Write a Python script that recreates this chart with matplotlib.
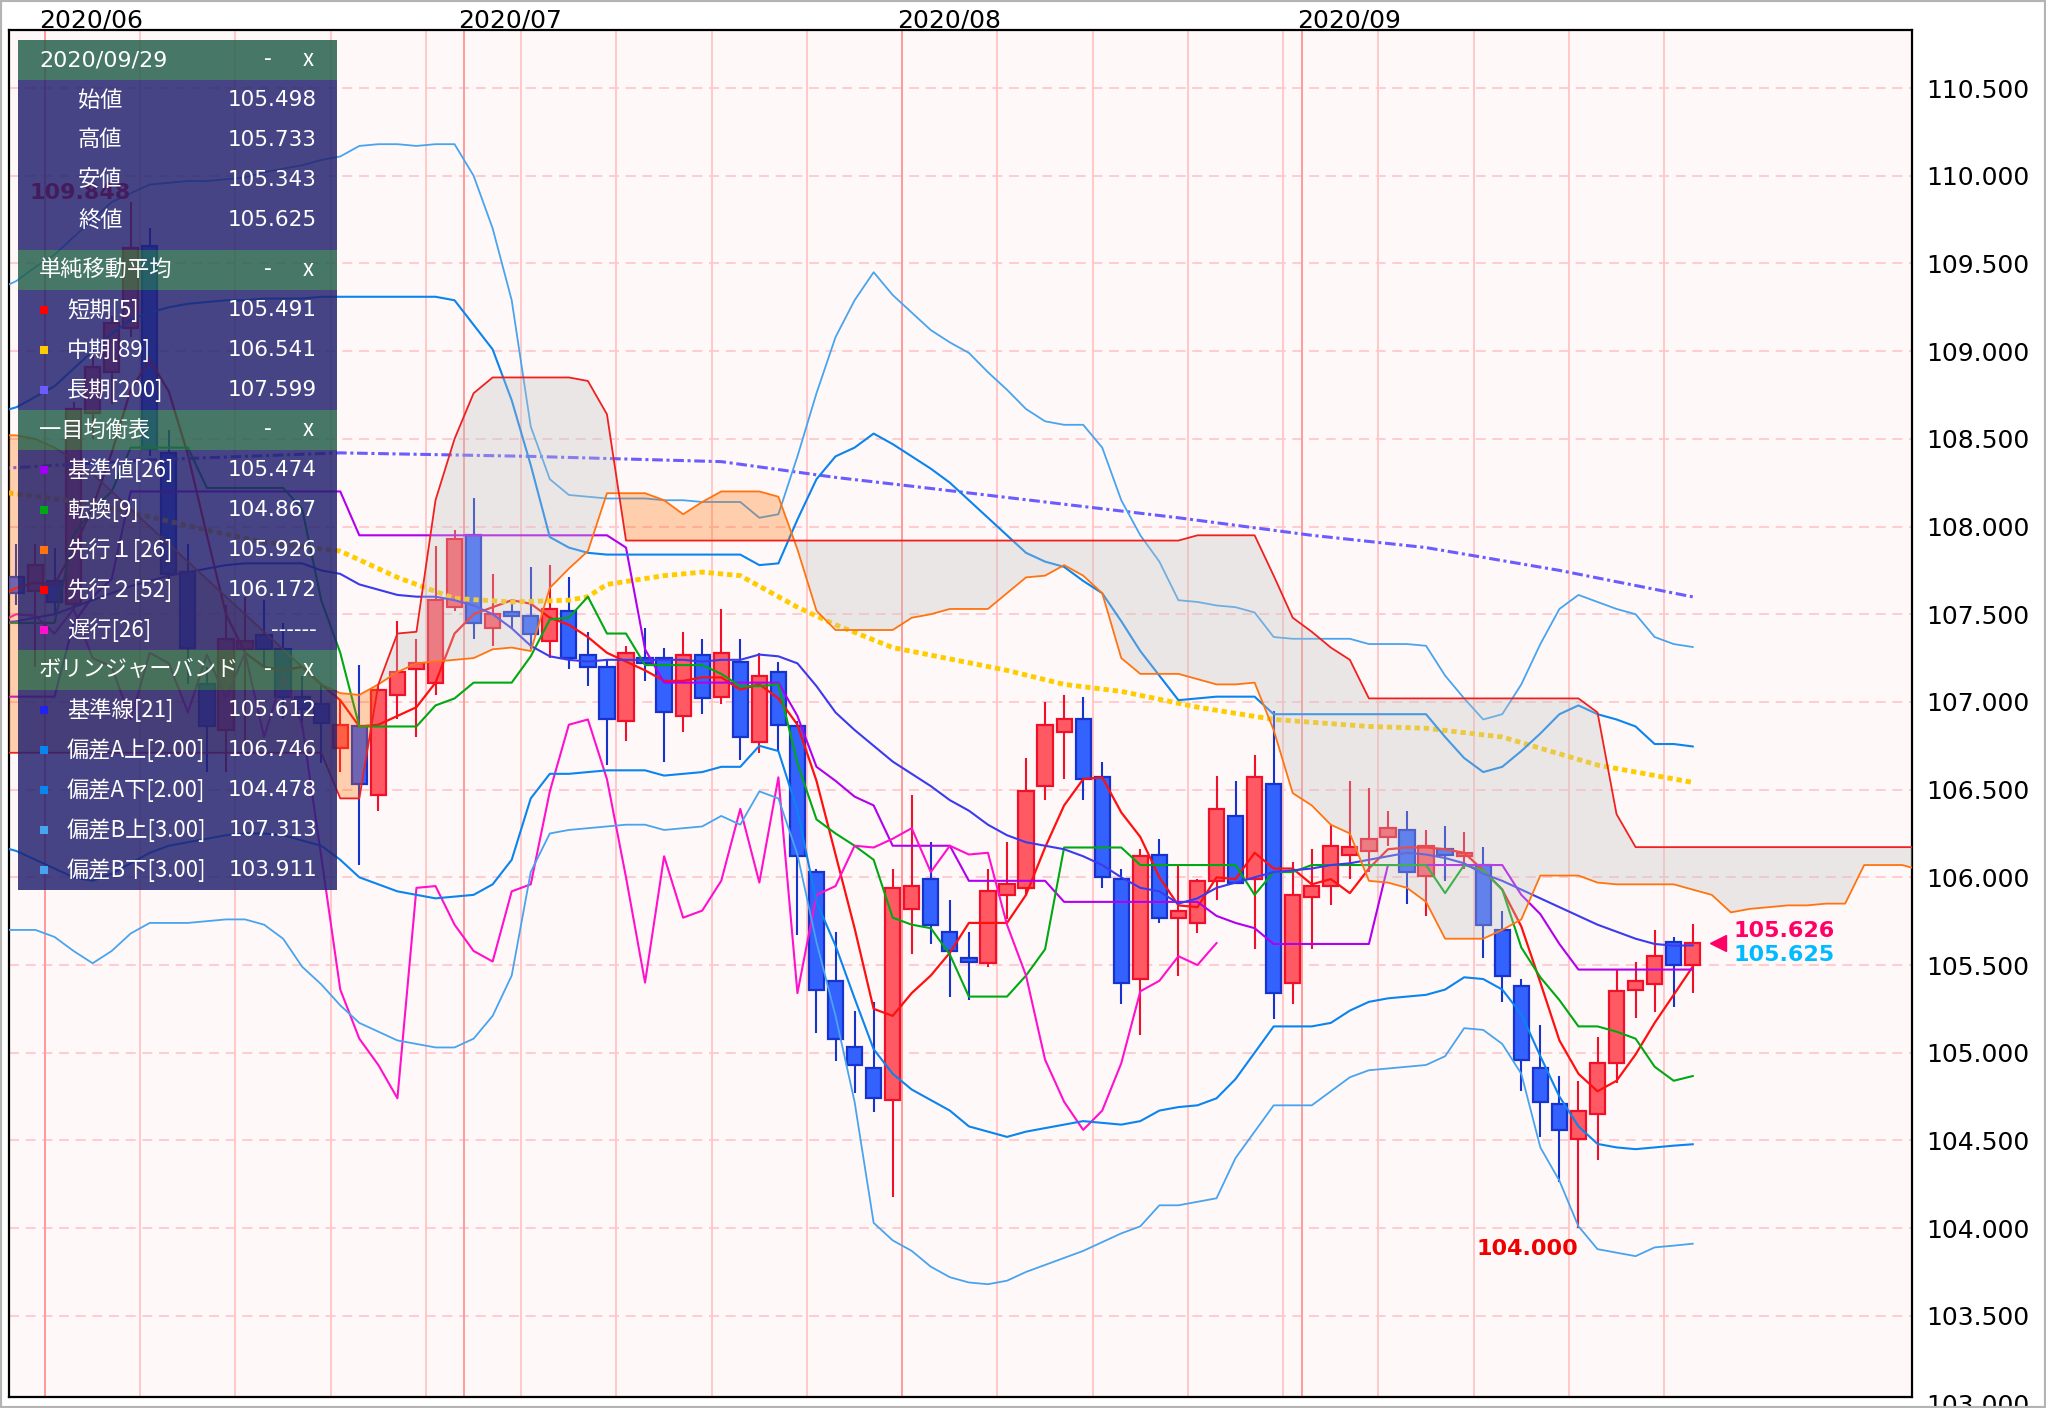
import matplotlib.pyplot as plt
import matplotlib.transforms as mtransforms
from matplotlib.patches import Rectangle
import numpy as np

plt.rcParams['font.family'] = ['Noto Sans CJK JP', 'DejaVu Sans']

W, H = 2046, 1408

# trading-day index: 0 = 2020/06/01 ... 86 = 2020/09/29
day = list(range(-3, 87))
opens = [107.50, 107.71, 107.63, 107.69, 107.56, 108.65, 108.88, 109.13, 109.60, 108.42,
         107.74, 107.10, 106.84, 107.30, 107.38, 107.30, 107.03, 106.99, 106.74, 106.86,
         106.47, 107.04, 107.19, 107.11, 107.54, 107.95, 107.42, 107.51, 107.49, 107.35,
         107.52, 107.27, 107.20, 106.89, 107.25, 107.25, 106.92, 107.27, 107.03, 107.23,
         106.77, 107.17, 106.86, 106.03, 105.41, 105.03, 104.91, 104.73, 105.82, 105.99,
         105.69, 105.54, 105.51, 105.90, 105.94, 106.52, 106.83, 106.90, 106.57, 105.99,
         105.42, 106.13, 105.77, 105.74, 105.98, 106.35, 105.99, 106.53, 105.40, 105.89,
         105.95, 106.13, 106.15, 106.23, 106.27, 106.01, 106.16, 106.12, 106.07, 105.70,
         105.38, 104.91, 104.71, 104.51, 104.65, 104.94, 105.36, 105.39, 105.63, 105.498]
highs = [107.85, 107.90, 107.90, 107.88, 108.71, 109.00, 109.20, 109.848, 109.70, 108.55,
         107.90, 107.20, 107.55, 107.60, 107.58, 107.45, 107.15, 107.10, 107.01, 107.21,
         107.10, 107.46, 107.36, 107.89, 107.98, 108.16, 107.73, 107.57, 107.77, 107.78,
         107.71, 107.40, 107.24, 107.32, 107.42, 107.31, 107.40, 107.36, 107.53, 107.36,
         107.28, 107.23, 106.89, 106.05, 105.69, 105.24, 105.29, 106.05, 106.47, 106.20,
         105.87, 105.69, 106.05, 106.20, 106.68, 107.00, 107.04, 107.03, 106.66, 106.05,
         106.16, 106.22, 106.07, 105.99, 106.58, 106.55, 106.70, 106.95, 106.09, 106.16,
         106.30, 106.55, 106.51, 106.38, 106.38, 106.27, 106.29, 106.26, 106.17, 105.81,
         105.42, 105.16, 104.87, 104.84, 105.09, 105.48, 105.52, 105.70, 105.66, 105.733]
lows = [107.40, 107.55, 107.20, 107.50, 107.52, 108.50, 108.70, 109.08, 108.40, 107.65,
        107.10, 106.60, 106.60, 106.75, 107.20, 106.90, 106.85, 106.65, 106.60, 106.07,
        106.38, 106.90, 106.80, 107.04, 107.52, 107.36, 107.32, 107.42, 107.30, 107.25,
        107.19, 107.09, 106.64, 106.78, 107.12, 106.66, 106.83, 106.93, 106.99, 106.67,
        106.71, 106.72, 105.67, 105.11, 104.95, 104.77, 104.66, 104.18, 105.56, 105.62,
        105.32, 105.30, 105.49, 105.76, 105.90, 106.44, 106.56, 106.44, 105.94, 105.28,
        105.10, 105.74, 105.44, 105.68, 105.87, 105.96, 105.59, 105.19, 105.28, 105.59,
        105.84, 105.99, 106.03, 106.18, 105.85, 105.78, 105.98, 106.05, 105.54, 105.29,
        104.78, 104.52, 104.26, 104.00, 104.39, 104.83, 105.20, 105.23, 105.26, 105.343]
closes = [107.73, 107.62, 107.78, 107.57, 108.67, 108.91, 109.16, 109.59, 108.44, 107.73,
          107.31, 106.86, 107.36, 107.35, 107.30, 107.03, 106.96, 106.88, 106.87, 106.53,
          107.07, 107.17, 107.22, 107.58, 107.93, 107.45, 107.50, 107.49, 107.39, 107.53,
          107.25, 107.20, 106.90, 107.28, 107.22, 106.94, 107.27, 107.02, 107.28, 106.80,
          107.15, 106.87, 106.12, 105.36, 105.08, 104.93, 104.74, 105.94, 105.95, 105.73,
          105.58, 105.52, 105.92, 105.96, 106.49, 106.87, 106.90, 106.56, 106.00, 105.40,
          106.12, 105.77, 105.81, 105.98, 106.39, 105.97, 106.57, 105.34, 105.90, 105.95,
          106.18, 106.17, 106.22, 106.28, 106.03, 106.18, 106.13, 106.14, 105.73, 105.44,
          104.96, 104.72, 104.56, 104.67, 104.94, 105.35, 105.41, 105.55, 105.50, 105.625]
ask_last = 105.626

month_start = [0, 22, 45, 66]
month_label = ['2020/06', '2020/07', '2020/08', '2020/09']
mondays = [0, 5, 10, 15, 20, 25, 30, 35, 40, 45, 50, 55, 60, 65, 70, 75, 80, 85]

# simple moving averages
sma5 = [107.60, 107.65, 107.68, 107.67, 107.87, 108.11, 108.42, 108.78, 108.95, 108.77,
        108.41, 107.95, 107.50, 107.28, 107.20, 107.18, 107.20, 107.10, 107.01, 106.86,
        106.87, 106.92, 106.97, 107.11, 107.39, 107.50, 107.54, 107.58, 107.56, 107.48,
        107.44, 107.37, 107.28, 107.23, 107.18, 107.12, 107.12, 107.14, 107.14, 107.07,
        107.10, 107.02, 106.87, 106.55, 106.13, 105.71, 105.25, 105.21, 105.34, 105.44,
        105.57, 105.74, 105.74, 105.74, 105.90, 106.17, 106.41, 106.56, 106.57, 106.37,
        106.23, 106.00, 105.84, 105.83, 106.00, 105.99, 106.14, 106.05, 106.05, 105.96,
        105.99, 105.91, 106.05, 106.16, 106.17, 106.17, 106.16, 106.14, 106.04, 105.93,
        105.72, 105.40, 105.07, 104.88, 104.78, 104.84, 104.99, 105.17, 105.33, 105.491]
sma89_x = [-3, 2, 8, 11, 15, 18, 21, 24, 27, 28, 29, 32, 34, 36, 37, 39, 41, 44, 50, 53,
           56, 60, 64, 69, 72, 76, 81, 86]
sma89 = [108.20, 108.13, 107.98, 107.91, 107.86, 107.71, 107.59, 107.57, 107.58, 107.60,
         107.67, 107.72, 107.74, 107.72, 107.66, 107.54, 107.44, 107.31, 107.18, 107.10,
         107.06, 106.97, 106.90, 106.86, 106.85, 106.80, 106.64, 106.541]
sma200_x = [-3, 5, 15, 25, 35, 41, 45, 52, 59, 66, 72, 79, 86]
sma200 = [108.33, 108.38, 108.42, 108.40, 108.37, 108.28, 108.23, 108.14, 108.05, 107.95,
          107.88, 107.75, 107.599]

# ichimoku
kijun = ([107.03] * 4 + [107.45, 107.60, 107.70] + [108.20] * 12 + [107.95] * 14
         + [107.88, 107.30] + [107.11] * 7 + [106.92, 106.63, 106.55, 106.46, 106.41]
         + [106.18] * 4 + [105.98] * 5 + [105.86] * 8 + [105.78, 105.74, 105.71]
         + [105.62] * 6 + [106.07] * 7 + [105.90, 105.79, 105.62] + [105.474] * 7)
tenkan = ([107.45] * 4 + [107.95, 108.10, 108.20] + [108.45] * 4 + [108.22] * 5
          + [108.10, 107.58, 107.28] + [106.86] * 4 + [106.98, 107.02] + [107.11] * 3
          + [107.26, 107.47, 107.48, 107.60, 107.39, 107.39] + [107.21] * 4
          + [107.16, 107.09, 107.09, 107.10, 106.65, 106.33, 106.25, 106.18, 106.10,
             105.77, 105.73, 105.71, 105.56] + [105.32] * 3 + [105.44, 105.59]
          + [106.17] * 4 + [106.07] * 6 + [105.90, 106.03, 106.03] + [106.07] * 7
          + [105.91, 106.07, 106.04, 105.93, 105.60, 105.43, 105.30, 105.15, 105.15,
             105.12, 105.08, 104.92, 104.84, 104.867])
senkou_x = list(range(-3, 99))
senkou_a = [108.52, 108.52, 108.50, 108.45, 108.38, 108.30, 108.20, 108.10, 108.00, 107.90,
            107.80, 107.70, 107.60, 107.50, 107.40, 107.30, 107.20, 107.10, 107.05, 107.04,
            107.10, 107.17, 107.22, 107.23, 107.24, 107.25, 107.30, 107.31, 107.29, 107.65,
            107.76, 107.86, 108.19, 108.19, 108.19, 108.15, 108.07, 108.14, 108.20, 108.20,
            108.20, 108.17, 107.87, 107.52, 107.41, 107.41, 107.41, 107.41, 107.48, 107.50,
            107.53, 107.53, 107.53, 107.62, 107.71, 107.72, 107.78, 107.72, 107.62, 107.25,
            107.16, 107.16, 107.16, 107.13, 107.10, 107.10, 107.11, 106.84, 106.48, 106.41,
            106.30, 106.25, 105.98, 105.97, 105.94, 105.86, 105.65, 105.65, 105.65, 105.70,
            105.76, 106.01, 106.01, 106.01, 105.97, 105.96, 105.96, 105.96, 105.96, 105.93,
            105.90, 105.80, 105.82, 105.83, 105.84, 105.84, 105.85, 105.85, 106.07, 106.07,
            106.07, 106.04]
senkou_b = ([106.71] * 18 + [106.45, 106.45, 107.10, 107.39, 107.40, 108.15, 108.50,
            108.76, 108.85, 108.85, 108.85, 108.85, 108.85, 108.83, 108.64] + [107.92] * 30
            + [107.95] * 4 + [107.72, 107.48, 107.40, 107.31, 107.24] + [107.02] * 12
            + [106.94, 106.36] + [106.172] * 16)

# bollinger bands (21)
bb_mid = [107.45, 107.46, 107.48, 107.50, 107.54, 107.58, 107.62, 107.66, 107.69, 107.72,
          107.74, 107.76, 107.78, 107.79, 107.79, 107.79, 107.79, 107.75, 107.73, 107.67,
          107.64, 107.61, 107.60, 107.60, 107.58, 107.55, 107.50, 107.42, 107.32, 107.26,
          107.24, 107.23, 107.24, 107.24, 107.24, 107.24, 107.24, 107.23, 107.24, 107.24,
          107.27, 107.26, 107.22, 107.09, 106.94, 106.84, 106.75, 106.66, 106.59, 106.52,
          106.44, 106.38, 106.30, 106.24, 106.20, 106.18, 106.16, 106.12, 106.07, 106.00,
          105.94, 105.92, 105.85, 105.88, 105.94, 105.97, 106.00, 106.03, 106.04, 106.05,
          106.07, 106.08, 106.10, 106.12, 106.14, 106.13, 106.11, 106.08, 106.02, 105.98,
          105.93, 105.88, 105.83, 105.78, 105.73, 105.69, 105.65, 105.62, 105.61, 105.612]
bb_up2 = [108.65, 108.68, 108.74, 108.80, 108.90, 109.00, 109.10, 109.18, 109.22, 109.25,
          109.27, 109.28, 109.29, 109.29, 109.30, 109.30, 109.30, 109.31, 109.31, 109.31,
          109.31, 109.31, 109.31, 109.31, 109.29, 109.15, 109.01, 108.72, 108.35, 107.94,
          107.88, 107.85, 107.84, 107.84, 107.84, 107.84, 107.84, 107.84, 107.84, 107.84,
          107.78, 107.79, 108.04, 108.27, 108.40, 108.45, 108.53, 108.47, 108.40, 108.33,
          108.25, 108.15, 108.05, 107.95, 107.85, 107.80, 107.77, 107.69, 107.62, 107.46,
          107.29, 107.15, 107.01, 107.02, 107.03, 107.03, 107.03, 106.93, 106.93, 106.93,
          106.93, 106.93, 106.93, 106.93, 106.93, 106.93, 106.80, 106.68, 106.60, 106.63,
          106.72, 106.82, 106.93, 106.98, 106.93, 106.90, 106.86, 106.76, 106.76, 106.746]
bb_up3 = [109.35, 109.40, 109.48, 109.55, 109.65, 109.75, 109.85, 109.90, 109.95, 109.96,
          109.97, 109.97, 109.98, 109.99, 110.02, 110.04, 110.06, 110.09, 110.11, 110.17,
          110.18, 110.18, 110.17, 110.18, 110.18, 110.00, 109.70, 109.29, 108.57, 108.27,
          108.18, 108.17, 108.16, 108.16, 108.16, 108.15, 108.15, 108.14, 108.14, 108.14,
          108.05, 108.07, 108.40, 108.76, 109.08, 109.29, 109.45, 109.32, 109.22, 109.12,
          109.05, 108.99, 108.88, 108.78, 108.67, 108.60, 108.58, 108.58, 108.45, 108.15,
          107.95, 107.80, 107.58, 107.57, 107.55, 107.54, 107.51, 107.37, 107.36, 107.36,
          107.36, 107.36, 107.33, 107.33, 107.33, 107.32, 107.15, 107.02, 106.90, 106.93,
          107.10, 107.33, 107.53, 107.61, 107.57, 107.53, 107.50, 107.37, 107.33, 107.313]
bb_dn2 = [106.18, 106.15, 106.10, 106.05, 106.00, 105.98, 106.02, 106.08, 106.14, 106.18,
          106.20, 106.22, 106.24, 106.25, 106.25, 106.24, 106.21, 106.18, 106.10, 106.00,
          105.96, 105.92, 105.90, 105.88, 105.89, 105.90, 105.96, 106.10, 106.45, 106.59,
          106.59, 106.60, 106.61, 106.61, 106.61, 106.58, 106.59, 106.60, 106.63, 106.63,
          106.75, 106.72, 106.38, 105.86, 105.61, 105.31, 105.02, 104.88, 104.79, 104.73,
          104.67, 104.58, 104.55, 104.52, 104.55, 104.57, 104.59, 104.61, 104.60, 104.59,
          104.61, 104.67, 104.69, 104.70, 104.74, 104.85, 105.00, 105.15, 105.15, 105.15,
          105.17, 105.24, 105.29, 105.31, 105.32, 105.33, 105.36, 105.43, 105.42, 105.36,
          105.22, 104.98, 104.75, 104.58, 104.48, 104.46, 104.45, 104.46, 104.47, 104.478]
bb_dn3 = [105.70, 105.70, 105.70, 105.66, 105.58, 105.51, 105.58, 105.68, 105.74, 105.74,
          105.74, 105.75, 105.76, 105.76, 105.73, 105.65, 105.49, 105.39, 105.27, 105.17,
          105.12, 105.07, 105.05, 105.03, 105.03, 105.08, 105.21, 105.44, 106.03, 106.25,
          106.27, 106.28, 106.29, 106.30, 106.30, 106.27, 106.28, 106.29, 106.35, 106.30,
          106.49, 106.45, 106.13, 105.63, 105.21, 104.72, 104.03, 103.93, 103.87, 103.78,
          103.72, 103.69, 103.68, 103.70, 103.75, 103.79, 103.83, 103.87, 103.92, 103.97,
          104.01, 104.13, 104.13, 104.15, 104.17, 104.40, 104.55, 104.70, 104.70, 104.70,
          104.78, 104.86, 104.90, 104.91, 104.92, 104.93, 104.98, 105.14, 105.13, 105.05,
          104.88, 104.46, 104.27, 104.01, 103.88, 103.86, 103.84, 103.89, 103.90, 103.911]

fig = plt.figure(figsize=(W / 100, H / 100), dpi=100)
ax = fig.add_axes([9 / W, 1 - 1397 / H, 1903 / W, 1367 / H])
ax.set_facecolor('#fff8f8')
ax.set_xlim(-2.39, 97.51)
ax.set_ylim(103.037, 110.831)
for s in ax.spines.values():
    s.set_linewidth(1.6)
    s.set_color('black')

# grid
yt = np.arange(103.5, 110.51, 0.5)
for v in yt:
    ax.axhline(v, color='#ffc4c8', lw=1.2, ls=(0, (6, 4)), zorder=0.5)
for m in mondays:
    ax.axvline(m - 0.5, color='#ffc8c8', lw=1.4, zorder=0.5)
for m in month_start:
    ax.axvline(m - 0.5, color='#ff9a9a', lw=1.4, zorder=0.6)

# candles
for i, o, h, l, c in zip(day, opens, highs, lows, closes):
    up = c >= o
    ec = '#f0102a' if up else '#1633cc'
    fc = '#ff5a64' if up else '#3362ff'
    ax.vlines(i, l, h, color=ec, lw=1.5, zorder=2)
    ax.add_patch(Rectangle((i - 0.4, min(o, c)), 0.8, max(abs(c - o), 0.006),
                           facecolor=fc, edgecolor=ec, lw=1.6, zorder=3))

# indicator lines
ax.plot(day, sma5, color='#ff1010', lw=1.6, zorder=4)
ax.plot(sma89_x, sma89, color='#ffcc00', lw=3.5, ls=(0, (1.1, 0.8)), zorder=4)
ax.plot(sma200_x, sma200, color='#6a5cff', lw=2.2, ls=(0, (3.5, 1.2, 1.0, 1.2)), zorder=4)
ax.plot(day, kijun, color='#b000ee', lw=1.5, zorder=4)
ax.plot(day, tenkan, color='#00a814', lw=1.5, zorder=4)
ax.plot([d - 25 for d in day[25:]], closes[25:], color='#ff10cc', lw=1.5, zorder=4)
ax.plot(day, bb_mid, color='#3a3aee', lw=1.5, zorder=4)
ax.plot(day, bb_up2, color='#0a84ee', lw=1.5, zorder=4)
ax.plot(day, bb_dn2, color='#0a84ee', lw=1.5, zorder=4)
ax.plot(day, bb_up3, color='#48a4ee', lw=1.3, zorder=4)
ax.plot(day, bb_dn3, color='#48a4ee', lw=1.3, zorder=4)

# kumo
sa = np.array(senkou_a)
sb = np.array(senkou_b)
ax.fill_between(senkou_x, sa, sb, where=sa >= sb, interpolate=True,
                color='#ff6e00', alpha=0.3, lw=0, zorder=5)
ax.fill_between(senkou_x, sa, sb, where=sa < sb, interpolate=True,
                color='#c4c4c4', alpha=0.33, lw=0, zorder=5)
ax.plot(senkou_x, senkou_a, color='#ff7410', lw=1.3, zorder=6)
ax.plot(senkou_x, senkou_b, color='#f02020', lw=1.3, zorder=6)

# high / low labels
i_hi = highs.index(max(highs))
i_lo = lows.index(min(lows))
ax.annotate(f'{max(highs):.3f}', xy=(day[i_hi], max(highs)), xytext=(0, 7),
            textcoords='offset points', ha='right', va='center', color='#ee0000',
            fontsize=16, fontweight='bold', family='DejaVu Sans', zorder=7)
ax.annotate(f'{min(lows):.3f}', xy=(day[i_lo], min(lows)), xytext=(0, -15),
            textcoords='offset points', ha='right', va='center', color='#ee0000',
            fontsize=16, fontweight='bold', family='DejaVu Sans', zorder=7)

# last price marker
tri = mtransforms.offset_copy(ax.transData, fig=fig, x=25, y=0, units='dots')
ax.plot([day[-1]], [closes[-1]], marker='<', ms=11, color='#ff0066', transform=tri,
        clip_on=False, zorder=7)
ax.annotate(f'{ask_last:.3f}', xy=(day[-1], closes[-1]), xytext=(29, 8.5),
            textcoords='offset points', ha='left', va='center', color='#ff0066',
            fontsize=16, fontweight='bold', family='DejaVu Sans', zorder=7)
ax.annotate(f'{closes[-1]:.3f}', xy=(day[-1], closes[-1]), xytext=(29, -8.5),
            textcoords='offset points', ha='left', va='center', color='#00bbff',
            fontsize=16, fontweight='bold', family='DejaVu Sans', zorder=7)

# axes labels
ax.set_xticks([])
ax.yaxis.tick_right()
ax.set_yticks(yt)
ax.set_yticklabels([f'{v:.3f}' for v in yt], family='DejaVu Sans', fontsize=18)
ax.tick_params(axis='y', length=0, pad=10)
ax.annotate('103.000', xy=(1, 103.0), xycoords=('axes fraction', 'data'), xytext=(10, -2),
            textcoords='offset points', va='center', fontsize=18, family='DejaVu Sans',
            annotation_clip=False)
for m, lbl in zip(month_start, month_label):
    ax.annotate(lbl, xy=(m - 0.5, 1), xycoords=('data', 'axes fraction'), xytext=(-4, 2),
                textcoords='offset points', ha='left', va='baseline', fontsize=18,
                family='DejaVu Sans', annotation_clip=False)

# info panel
def fxy(x, y):
    return x / W, 1 - y / H

def band(y0, y1, color):
    fig.add_artist(Rectangle(fxy(18, y1), 319 / W, (y1 - y0) / H, transform=fig.transFigure,
                             facecolor=color, edgecolor='none', alpha=0.84, zorder=10))

head_c = '#245f4b'
body_c = '#23226f'
band(40, 80, head_c)
band(80, 250, body_c)
band(250, 290, head_c)
band(290, 410, body_c)
band(410, 450, head_c)
band(450, 650, body_c)
band(650, 690, head_c)
band(690, 890, body_c)

headers = [('2020/09/29', 60), ('単純移動平均', 270), ('一目均衡表', 430), ('ボリンジャーバンド', 670)]
for txt, yc in headers:
    fam = 'DejaVu Sans' if txt[0].isdigit() else None
    fig.text(*fxy(39, yc), txt, color='white', fontsize=16, va='center', zorder=11,
             **({'family': fam} if fam else {}))
    fig.text(*fxy(268, yc), '-', color='white', fontsize=16, va='center', ha='center', zorder=11)
    fig.text(*fxy(308, yc), 'x', color='white', fontsize=16, va='center', ha='center', zorder=11)

ohlc_labels = ['始値', '高値', '安値', '終値']
ohlc_vals = ['105.498', '105.733', '105.343', '105.625']
for k, (lbl, val) in enumerate(zip(ohlc_labels, ohlc_vals)):
    yc = 100 + 40 * k
    fig.text(*fxy(78, yc), lbl, color='white', fontsize=16, va='center', zorder=11)
    fig.text(*fxy(317, yc), val, color='white', fontsize=15.5, va='center', ha='right',
             family='DejaVu Sans', zorder=11)

ind_labels = ['短期[5]', '中期[89]', '長期[200]',
              '基準値[26]', '転換[9]', '先行１[26]', '先行２[52]', '遅行[26]',
              '基準線[21]', '偏差A上[2.00]', '偏差A下[2.00]', '偏差B上[3.00]', '偏差B下[3.00]']
ind_vals = ['105.491', '106.541', '107.599',
            '105.474', '104.867', '105.926', '106.172', '------',
            '105.612', '106.746', '104.478', '107.313', '103.911']
ind_colors = ['#ff0000', '#ffcc00', '#6a5cff',
              '#a000f0', '#00a814', '#ff7410', '#ff0000', '#ff10cc',
              '#2222ee', '#0a84ee', '#0a84ee', '#48a4ee', '#48a4ee']
ind_y = [310, 350, 390, 470, 510, 550, 590, 630, 710, 750, 790, 830, 870]
for lbl, val, col, yc in zip(ind_labels, ind_vals, ind_colors, ind_y):
    fig.add_artist(Rectangle(fxy(40, yc + 4), 8 / W, 8 / H, transform=fig.transFigure,
                             facecolor=col, edgecolor='none', zorder=11))
    fig.text(*fxy(67, yc), lbl, color='white', fontsize=16, va='center', zorder=11)
    fig.text(*fxy(317, yc), val, color='white', fontsize=15.5, va='center', ha='right',
             family='DejaVu Sans', zorder=11)

# outer frame
fig.add_artist(Rectangle((0, 0), 1, 1, transform=fig.transFigure, fill=False,
                         edgecolor='#b4b4b4', lw=3, zorder=12))

fig.savefig('out.png', dpi=100, facecolor='white')
